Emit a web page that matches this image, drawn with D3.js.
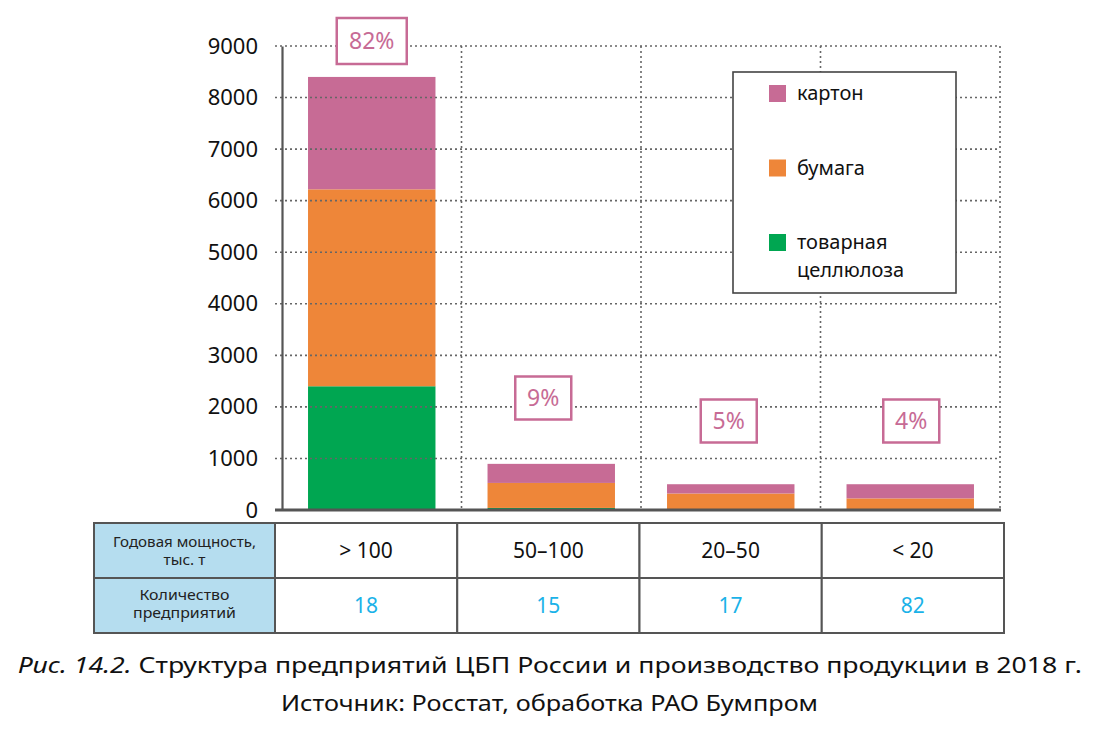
<!DOCTYPE html>
<html>
<head>
<meta charset="utf-8">
<script src="https://cdn.jsdelivr.net/npm/d3@7"></script>
<style>
  body { margin: 0; background: #fff; }
  svg { font-family: "Noto Sans", "DejaVu Sans", sans-serif; }
</style>
</head>
<body>
<svg id="chart" width="1108" height="749"></svg>
<script>
// data
const categories = ['> 100', '50–100', '20–50', '< 20'];
const pulp   = [2400, 40, 0, 0];      // товарная целлюлоза
const paper  = [3820, 485, 320, 225]; // бумага
const carton = [2180, 370, 180, 275]; // картон
const shares = ['82%', '9%', '5%', '4%'];
const plants = [18, 15, 17, 82];
const yTicks = [0, 1000, 2000, 3000, 4000, 5000, 6000, 7000, 8000, 9000];

const seriesKeys = ['pulp', 'paper', 'carton'];
const colors = { pulp: '#00a651', paper: '#ee8639', carton: '#c76b95' };
const legendItems = [
  { key: 'carton', lines: ['картон'] },
  { key: 'paper', lines: ['бумага'] },
  { key: 'pulp', lines: ['товарная', 'целлюлоза'] }
];

const rows = categories.map((c, i) => ({
  cat: c, pulp: pulp[i], paper: paper[i], carton: carton[i]
}));

const svg = d3.select('#chart');

const x = d3.scaleBand()
  .domain(categories)
  .range([282, 1000])
  .paddingInner(0.29)
  .paddingOuter(0.145);

const y = d3.scaleLinear()
  .domain([0, 9000])
  .range([510, 46]);

const stack = d3.stack().keys(seriesKeys)(rows);

// bars
svg.append('g')
  .selectAll('g')
  .data(stack)
  .join('g')
    .attr('fill', d => colors[d.key])
  .selectAll('rect')
  .data(d => d)
  .join('rect')
    .attr('x', d => x(d.data.cat))
    .attr('width', x.bandwidth())
    .attr('y', d => y(d[1]))
    .attr('height', d => y(d[0]) - y(d[1]));

// dotted grid, drawn over the bars
const grid = svg.append('g')
  .attr('stroke', '#666')
  .attr('stroke-width', 1.6)
  .attr('stroke-dasharray', '2,3');

grid.selectAll('line.h')
  .data(yTicks.filter(t => t > 0))
  .join('line')
    .attr('class', 'h')
    .attr('x1', 275)
    .attr('x2', 1000)
    .attr('y1', d => y(d))
    .attr('y2', d => y(d));

const step = x.step();
grid.selectAll('line.v')
  .data(categories)
  .join('line')
    .attr('class', 'v')
    .attr('x1', d => x(d) - x.paddingOuter() * step + step)
    .attr('x2', d => x(d) - x.paddingOuter() * step + step)
    .attr('y1', y(9000))
    .attr('y2', y(0));

// y axis
const yAxis = svg.append('g')
  .attr('transform', 'translate(282,0)')
  .call(d3.axisLeft(y).tickValues(yTicks).tickFormat(d3.format('d')).tickSize(0).tickPadding(24));
yAxis.select('.domain').attr('stroke', '#555').attr('stroke-width', 2.2);
yAxis.selectAll('text')
  .attr('font-size', 22)
  .attr('fill', '#111')
  .attr('font-family', '"Noto Sans", sans-serif');

// baseline
svg.append('line')
  .attr('x1', 275)
  .attr('x2', 1001)
  .attr('y1', y(0))
  .attr('y2', y(0))
  .attr('stroke', '#555')
  .attr('stroke-width', 3);

// share labels
const shareDx = [0, -8, -2, 1];
const shareY = [41, 398, 421, 421];
const labels = svg.append('g')
  .selectAll('g')
  .data(categories)
  .join('g')
    .attr('transform', (d, i) => `translate(${x(d) + x.bandwidth() / 2 + shareDx[i]},${shareY[i]})`);

labels.append('rect')
  .attr('x', (d, i) => i === 0 ? -35 : -28)
  .attr('y', (d, i) => i === 0 ? -23 : -21.5)
  .attr('width', (d, i) => i === 0 ? 70 : 56)
  .attr('height', (d, i) => i === 0 ? 46 : 43)
  .attr('fill', '#fff')
  .attr('stroke', '#c76b95')
  .attr('stroke-width', 2.5);

labels.append('text')
  .attr('text-anchor', 'middle')
  .attr('dy', '0.36em')
  .attr('font-size', 23)
  .attr('fill', '#c76b95')
  .text((d, i) => shares[i]);

// legend
const legend = svg.append('g').attr('transform', 'translate(733,72)');
legend.append('rect')
  .attr('width', 223)
  .attr('height', 221)
  .attr('fill', '#fff')
  .attr('stroke', '#444')
  .attr('stroke-width', 1.6);

const legendRows = legend.selectAll('g')
  .data(legendItems)
  .join('g')
    .attr('transform', (d, i) => `translate(36,${13 + i * 74.5})`);

legendRows.append('rect')
  .attr('width', 17)
  .attr('height', 17)
  .attr('fill', d => colors[d.key]);

legendRows.append('text')
  .attr('x', 28)
  .attr('font-size', 20)
  .attr('fill', '#111')
  .selectAll('tspan')
  .data(d => d.lines)
  .join('tspan')
    .attr('x', 28)
    .attr('y', (d, i) => 15 + i * 28)
    .text(d => d);

// table under the chart
const col = d3.scaleBand()
  .domain(categories)
  .range([275, 1004]);

const table = svg.append('g');
const rowTop = [523, 578];
const rowH = 55;

table.selectAll('rect.head')
  .data(rowTop)
  .join('rect')
    .attr('class', 'head')
    .attr('x', 94)
    .attr('y', d => d)
    .attr('width', 181)
    .attr('height', rowH)
    .attr('fill', '#b5ddef')
    .attr('stroke', '#555')
    .attr('stroke-width', 2);

rowTop.forEach(top => {
  table.selectAll(null)
    .data(categories)
    .join('rect')
      .attr('x', d => col(d))
      .attr('y', top)
      .attr('width', col.bandwidth())
      .attr('height', rowH)
      .attr('fill', '#fff')
      .attr('stroke', '#555')
      .attr('stroke-width', 2);
});

const headLines = [
  [{ t: 'Годовая мощность,', w: 143, y: 547 }, { t: 'тыс. т', w: 42, y: 565 }],
  [{ t: 'Количество', w: 90, y: 600 }, { t: 'предприятий', w: 103, y: 618 }]
];
headLines.flat().forEach(l => {
  table.append('text')
    .attr('x', 184.5)
    .attr('y', l.y)
    .attr('text-anchor', 'middle')
    .attr('font-size', 13.5)
    .attr('fill', '#222')
    .attr('textLength', l.w)
    .attr('lengthAdjust', 'spacingAndGlyphs')
    .text(l.t);
});

table.selectAll('text.cat')
  .data(categories)
  .join('text')
    .attr('class', 'cat')
    .attr('x', d => col(d) + col.bandwidth() / 2)
    .attr('y', rowTop[0] + rowH / 2)
    .attr('dy', '0.36em')
    .attr('text-anchor', 'middle')
    .attr('font-size', 21)
    .attr('fill', '#111')
    .text(d => d);

table.selectAll('text.num')
  .data(categories)
  .join('text')
    .attr('class', 'num')
    .attr('x', d => col(d) + col.bandwidth() / 2)
    .attr('y', rowTop[1] + rowH / 2)
    .attr('dy', '0.36em')
    .attr('text-anchor', 'middle')
    .attr('font-size', 21)
    .attr('fill', '#1ab2e8')
    .text((d, i) => plants[i]);

// caption
const cap = svg.append('text')
  .attr('x', 550)
  .attr('y', 673)
  .attr('text-anchor', 'middle')
  .attr('font-size', 22)
  .attr('fill', '#111')
  .attr('textLength', 1064)
  .attr('lengthAdjust', 'spacingAndGlyphs');
cap.append('tspan').attr('font-style', 'italic').text('Рис. 14.2.');
cap.append('tspan').text(' Структура предприятий ЦБП России и производство продукции в 2018 г.');

svg.append('text')
  .attr('x', 549.5)
  .attr('y', 711)
  .attr('text-anchor', 'middle')
  .attr('font-size', 22)
  .attr('fill', '#111')
  .attr('textLength', 537)
  .attr('lengthAdjust', 'spacingAndGlyphs')
  .text('Источник: Росстат, обработка РАО Бумпром');
</script>
</body>
</html>
